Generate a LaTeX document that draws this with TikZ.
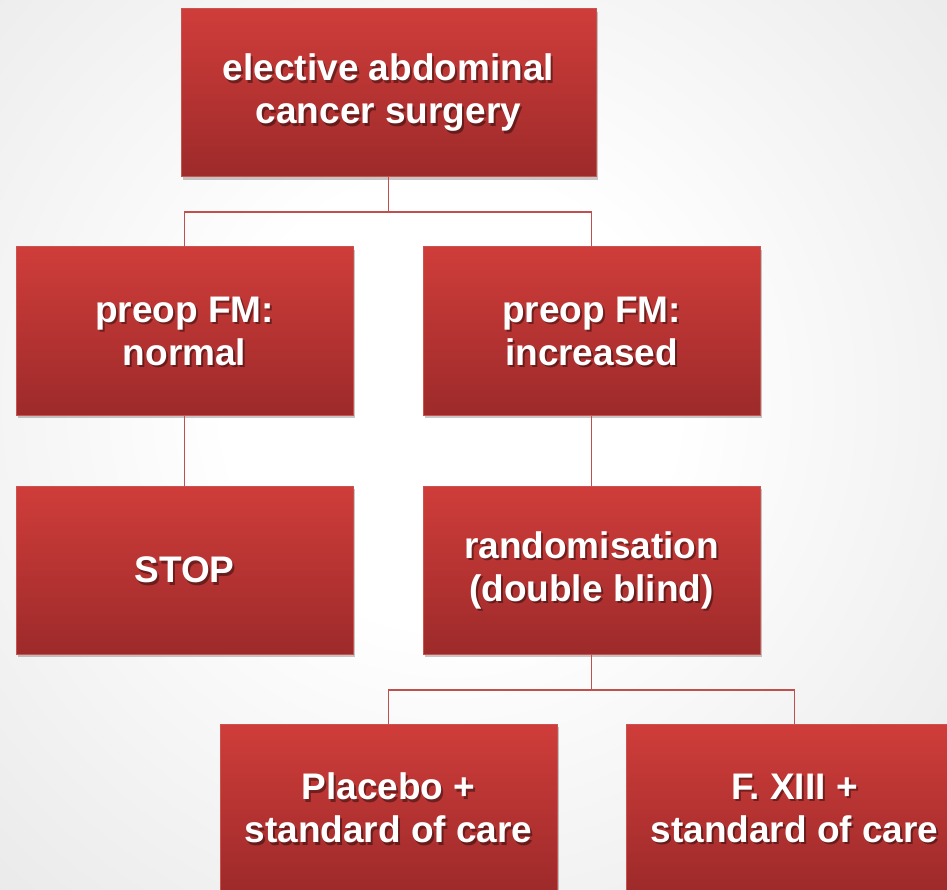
\documentclass[tikz,border=0pt]{standalone}
\usepackage{fontspec}
\setmainfont{Liberation Sans}
\usetikzlibrary{shadows,calc}
\definecolor{bgg}{HTML}{C8C8C8}
\definecolor{rtop}{HTML}{CF3D3A}
\definecolor{rbot}{HTML}{9D2A2A}
\definecolor{rline}{HTML}{C9534F}
\definecolor{cline}{HTML}{C0504D}
\pgfdeclareradialshading{bgshade}{\pgfpoint{0bp}{0bp}}{color(0bp)=(white); color(8bp)=(white); color(50bp)=(bgg)}
\tikzset{
  rbox/.style={rectangle, top color=rtop, bottom color=rbot, draw=rline, line width=1pt,
    minimum height=168pt, inner sep=0pt,
    drop shadow={shadow xshift=2pt, shadow yshift=-3pt, opacity=0.22, fill=black}},
  rtxt/.style={text=white, font=\bfseries\fontsize{37}{43}\selectfont, align=center, inner sep=0pt},
  rtxtsh/.style={rtxt, text=black, text opacity=0.4},
  conn/.style={draw=cline, line width=1.8pt}
}
\newcommand{\redbox}[5]{%
  \node[rbox, minimum width=#4] (#1) at (#2,#3) {};
  \node[rtxtsh] (#1sh) at ([shift={(2pt,-2.5pt)}]#1.center) {#5};
  \node[rtxt] (#1t) at (#1.center) {#5};
}
\begin{document}
\begin{tikzpicture}[x=1pt,y=-1pt]
\useasboundingbox (0,0) rectangle (947,890);
\clip (0,0) rectangle (947,890);
\fill[bgg] (0,0) rectangle (947,890);
\shade[shading=bgshade] (450,400) circle [radius=700pt];
% junctions
\coordinate (j1) at (388.5,212);
\coordinate (j2) at (591.5,690);
% boxes
\redbox{top}{388.5}{93}{415pt}{elective abdominal\\cancer surgery}
\redbox{norm}{184.5}{331}{337pt}{preop FM:\\normal}
\redbox{inc}{591.5}{331}{337pt}{preop FM:\\increased}
\redbox{stop}{184.5}{570}{337pt}{STOP}
\redbox{rand}{591.5}{570}{337pt}{randomisation\\(double blind)}
\redbox{plac}{388.5}{808}{337pt}{Placebo +\\standard of care}
\redbox{f13}{794.5}{808}{337pt}{F. XIII +\\standard of care}
% connectors
\draw[conn] (top.south) -- (j1);
\draw[conn] (norm.north) |- (j1) -| (inc.north);
\draw[conn] (norm.south) -- (stop.north);
\draw[conn] (inc.south) -- (rand.north);
\draw[conn] (rand.south) -- (j2);
\draw[conn] (plac.north) |- (j2) -| (f13.north);
\end{tikzpicture}
\end{document}
